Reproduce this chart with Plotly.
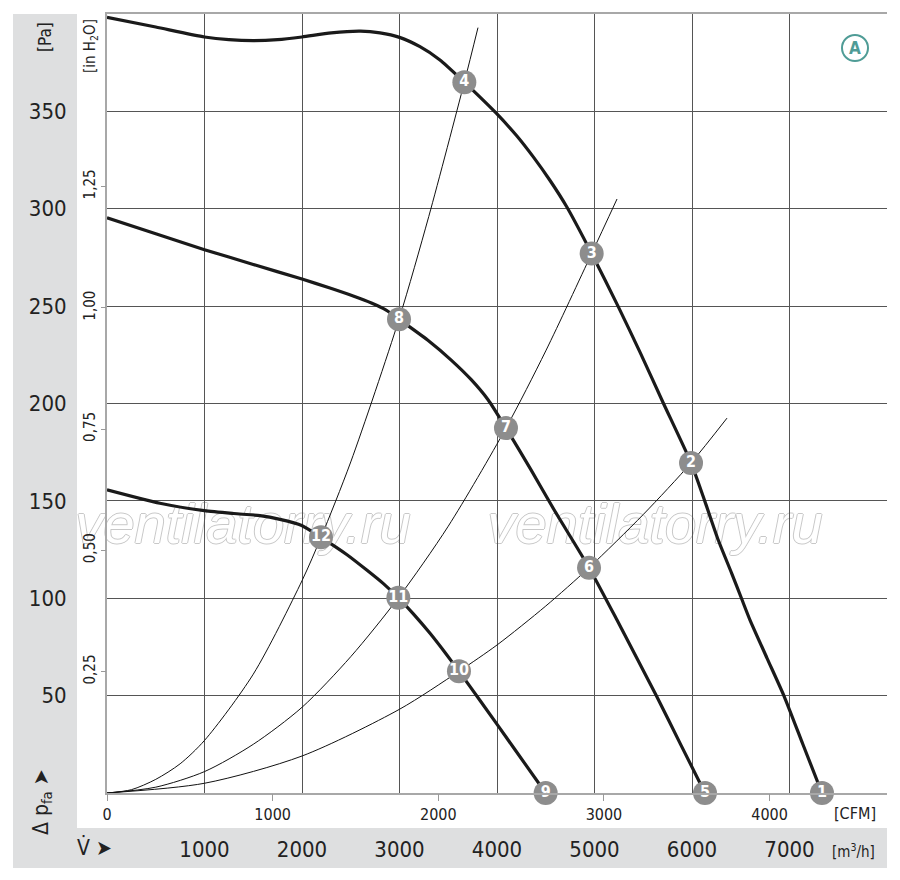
import plotly.graph_objects as go

# font condensada parecida com a do catálogo
FONT = "Liberation Sans Narrow, DejaVu Sans Condensed, sans-serif"
TXT = "#222222"

# curvas do ventilador (vazão m³/h, pressão Pa)
v_top = [0, 500, 1000, 1250, 1500, 1750, 2000, 2300, 2600, 2800, 3000, 3210, 3415, 3665, 3826, 3997, 4202, 4374,
         4544, 4715, 4971, 5241, 5470, 5703, 5990, 6133, 6269, 6407, 6510, 6595, 6769, 6944, 7138, 7333]
p_top = [398.3, 393.3, 388.2, 386.8, 386.3, 386.8, 388.2, 390.3, 391.2, 390.3, 388, 383.2, 376.4, 365, 357.3, 348.8,
         337.5, 326.5, 314.5, 301, 277, 250, 226, 200.5, 169.5, 149.6, 129.9, 112.8, 99.6, 88.8, 69.3, 49.8, 24.9, 0]

v_mid = [0, 500, 1000, 1500, 2000, 2287, 2525, 2712, 2863, 2995, 3288, 3530, 3738, 3910, 4092, 4349, 4587,
         4944, 5231, 5636, 5887, 6133]
p_mid = [295.4, 287.2, 279, 271.4, 263.9, 259.3, 255.2, 251.6, 248, 243.3, 232.6, 222.3, 212.1, 201.8, 187.4, 165.9, 145.3,
         115.7, 88.8, 49.8, 24.6, 0]

v_low = [0, 543, 998, 1300, 1569, 1774, 1997, 2195, 2458, 2664, 2835, 2988, 3142, 3313, 3484, 3610, 3826, 4167, 4499]
p_low = [155.7, 148.8, 145, 143.5, 142.4, 140.5, 137.4, 131.3, 122.5, 114.5, 107.5, 100.2, 92, 82, 71, 62.5, 47.5, 23.5, 0]

# curvas do sistema (parábolas finas)
v_sysA = [0, 250, 500, 750, 1000, 1500, 2000, 2195, 2500, 2995, 3300, 3665, 3805]
p_sysA = [0, 1.7, 7, 15, 27, 61, 109, 131.3, 170, 243.3, 296, 365, 393]

v_sysB = [0, 500, 1000, 1500, 2000, 2500, 2988, 3500, 4092, 4500, 4971, 5231]
p_sysB = [0, 3, 11, 25, 44, 70, 100.2, 137, 187.4, 227, 277, 305]

v_sysC = [0, 1000, 2000, 3000, 3610, 4000, 4500, 4944, 5500, 5990, 6359]
p_sysC = [0, 5, 19, 43, 62.5, 76, 96, 115.7, 143, 169.5, 192.5]

# pontos numerados
pt_v = [7333, 5990, 4971, 3665, 6133, 4944, 4092, 2995, 4499, 3610, 2988, 2195]
pt_p = [0, 169.5, 277, 365, 0, 115.7, 187.4, 243.3, 0, 62.5, 100.2, 131.3]
pt_lbl = [str(i) for i in range(1, 13)]

# eixos
m3h_ticks = [1000, 2000, 3000, 4000, 5000, 6000, 7000, 8000]
m3h_text = ["1000", "2000", "3000", "4000", "5000", "6000", "7000", ""]
cfm_ticks = [0, 1000, 2000, 3000, 4000]
pa_ticks = [50, 100, 150, 200, 250, 300, 350, 400]
pa_text = ["50", "100", "150", "200", "250", "300", "350", ""]
inh2o_ticks = [0.25, 0.5, 0.75, 1.0, 1.25]
inh2o_text = ["0,25", "0,50", "0,75", "1,00", "1,25"]

M3H_PER_CFM = 1.699
PA_PER_INH2O = 249.09

# posição em pixels da página -> coordenadas paper (área do gráfico 107..887 x 14..793)
def px(x):
    return (x - 107) / 780.0

def py(y):
    return (793 - y) / 779.0

fig = go.Figure()

for vv, pp in [(v_sysA, p_sysA), (v_sysB, p_sysB), (v_sysC, p_sysC)]:
    fig.add_trace(go.Scatter(x=vv, y=pp, mode="lines", line=dict(color="#111111", width=1, shape="spline", smoothing=0.8),
                             hoverinfo="skip", showlegend=False))

for vv, pp in [(v_top, p_top), (v_mid, p_mid), (v_low, p_low)]:
    fig.add_trace(go.Scatter(x=vv, y=pp, mode="lines", line=dict(color="#1a1a1a", width=3.2, shape="spline", smoothing=0.6),
                             hoverinfo="skip", showlegend=False))

fig.add_trace(go.Scatter(x=pt_v, y=pt_p, mode="markers+text", text=pt_lbl, textposition="middle center",
                         marker=dict(size=24, color="#8d8d8d"),
                         textfont=dict(family=FONT, size=16, color="white", weight="bold"),
                         cliponaxis=False, hoverinfo="skip", showlegend=False))

# eixo CFM (só para as marcas)
fig.add_trace(go.Scatter(x=[0, 8000 / M3H_PER_CFM], y=[0, 0], xaxis="x2", mode="lines", line=dict(width=0),
                         hoverinfo="skip", showlegend=False))
# eixo in H2O
fig.add_trace(go.Scatter(x=[0, 8000], y=[0, 400 / PA_PER_INH2O], yaxis="y2", mode="lines", line=dict(width=0),
                         hoverinfo="skip", showlegend=False))

shapes = [
    dict(type="rect", xref="paper", yref="paper", x0=px(13), x1=px(77), y0=py(868), y1=py(14),
         fillcolor="#dedfe0", line=dict(width=0), layer="below"),
    dict(type="rect", xref="paper", yref="paper", x0=px(13), x1=px(887), y0=py(868), y1=py(828),
         fillcolor="#dedfe0", line=dict(width=0), layer="below"),
    dict(type="circle", xref="paper", yref="paper", x0=px(842), x1=px(868), y0=py(61), y1=py(35),
         line=dict(color="#4f9c96", width=2)),
]
# marca d'água (letras contornadas, por baixo da grade)
OUTLINE = "1px 0 #c8c8c8, -1px 0 #c8c8c8, 0 1px #c8c8c8, 0 -1px #c8c8c8"
for cx in [243, 655]:
    shapes.append(dict(type="rect", xref="paper", yref="paper", x0=px(cx - 170), x1=px(cx + 170),
                       y0=py(545), y1=py(491), line=dict(width=0), layer="below",
                       label=dict(text="ventilatorry.ru",
                                  font=dict(family="Liberation Sans, Arial, sans-serif", size=56,
                                            color="white", style="italic", shadow=OUTLINE),
                                  textposition="middle center")))

annotations = [
    dict(text="[Pa]", x=px(45), y=py(37), textangle=-90, font=dict(family=FONT, size=17, color=TXT)),
    dict(text="[in H<sub>2</sub>O]", x=px(90), y=py(46), textangle=-90, font=dict(family=FONT, size=15, color=TXT)),
    dict(text="Δ p<sub>fa</sub> ➤", x=px(42), y=py(802), textangle=-90, font=dict(family=FONT, size=21, color=TXT)),
    dict(text="V̇ ➤", x=px(94), y=py(848), font=dict(family=FONT, size=21, color=TXT)),
    dict(text="[CFM]", x=px(855), y=py(813), font=dict(family=FONT, size=16, color=TXT)),
    dict(text="[m<sup>3</sup>/h]", x=px(853), y=py(851), font=dict(family=FONT, size=15, color=TXT)),
    dict(text="<b>A</b>", x=px(855), y=py(48), font=dict(family=FONT, size=17, color="#4f9c96")),
]
for a in annotations:
    a.update(xref="paper", yref="paper", showarrow=False, xanchor="center", yanchor="middle")

# a página tem 8 px de margem no body: a figura é um pouco menor e deslocada
fig.update_layout(
    width=884, height=864,
    margin=dict(l=99, r=5, t=6, b=79),
    paper_bgcolor="white", plot_bgcolor="white",
    template="none",
    font=dict(family=FONT, color=TXT),
    shapes=shapes, annotations=annotations,
    xaxis=dict(range=[0, 8000], tickvals=m3h_ticks, ticktext=m3h_text, showgrid=True, gridcolor="#555555", gridwidth=1,
               ticks="", ticklabelstandoff=36, tickfont=dict(size=22, color=TXT), showline=True, linecolor="#a8a8a8",
               linewidth=2, mirror=True, zeroline=False, fixedrange=True),
    xaxis2=dict(range=[0, 8000 / M3H_PER_CFM], overlaying="x", anchor="y", side="bottom", tickvals=cfm_ticks,
                ticks="outside", ticklen=7, tickcolor="#999999", showgrid=False, zeroline=False, showline=False,
                tickfont=dict(size=16, color=TXT), fixedrange=True),
    yaxis=dict(range=[0, 400], tickvals=pa_ticks, ticktext=pa_text, showgrid=True, gridcolor="#555555", gridwidth=1,
               ticks="", ticklabelstandoff=34, tickfont=dict(size=22, color=TXT), showline=True, linecolor="#a8a8a8",
               linewidth=2, zeroline=False, fixedrange=True),
    yaxis2=dict(range=[0, 400 / PA_PER_INH2O], overlaying="y", anchor="x", side="left", tickvals=inh2o_ticks,
                ticktext=inh2o_text, tickangle=-90, ticks="outside", ticklen=5, tickcolor="#999999", showgrid=False,
                zeroline=False, showline=False, tickfont=dict(size=15, color=TXT), fixedrange=True),
)

fig.write_html("out.html")
